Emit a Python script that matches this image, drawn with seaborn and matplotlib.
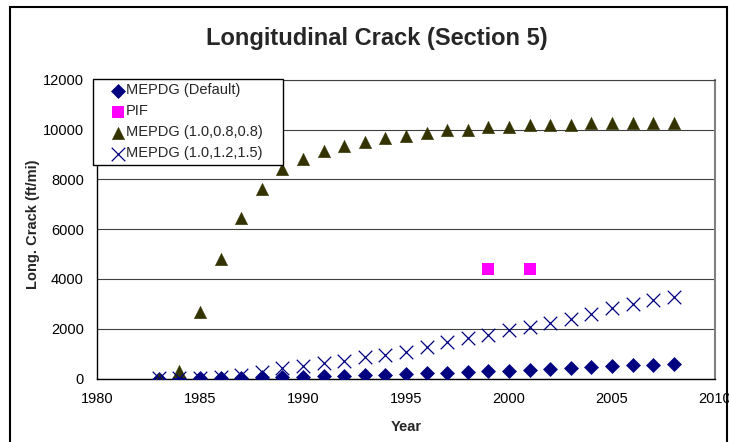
import numpy as np
import pandas as pd
import matplotlib
matplotlib.use('Agg')
import matplotlib.pyplot as plt
import seaborn as sns
from matplotlib.patches import Rectangle

# values
years = [1983, 1984, 1985, 1986, 1987, 1988, 1989, 1990, 1991, 1992, 1993, 1994, 1995,
         1996, 1997, 1998, 1999, 2000, 2001, 2002, 2003, 2004, 2005, 2006, 2007, 2008]
mepdg_default = [0, 5, 10, 20, 30, 50, 60, 80, 100, 120, 140, 160, 200,
                 210, 240, 260, 290, 320, 340, 390, 420, 460, 500, 550, 560, 590]
mepdg_08 = [0, 310, 2670, 4820, 6440, 7600, 8410, 8830, 9150, 9330, 9520, 9670, 9730,
            9870, 9970, 10000, 10110, 10100, 10190, 10190, 10190, 10270, 10270, 10270, 10270, 10270]
mepdg_12 = [30, 30, 30, 60, 140, 270, 410, 500, 610, 710, 850, 940, 1080,
            1280, 1480, 1610, 1750, 1950, 2060, 2220, 2390, 2580, 2820, 2990, 3150, 3290]
pif_years = [1999, 2001]
pif_vals = [4390, 4390]

labels = ['MEPDG (Default)', 'PIF', 'MEPDG (1.0,0.8,0.8)', 'MEPDG (1.0,1.2,1.5)']

sns.set_style('white')
plt.rcParams['font.family'] = ['Liberation Sans', 'DejaVu Sans']

W, H = 729, 442
fig = plt.figure(figsize=(W / 100, H / 100), dpi=100)
ax = fig.add_axes([97 / W, 1 - 378.5 / H, 618 / W, 298.5 / H])

navy = '#000080'
sns.scatterplot(x=years, y=mepdg_default, marker='D', s=58, color=navy,
                edgecolor=navy, linewidth=0, label=labels[0], ax=ax, zorder=3)
sns.scatterplot(x=pif_years, y=pif_vals, marker='s', s=64, color='#FF00FF',
                edgecolor='#FF00FF', linewidth=0, label=labels[1], ax=ax, zorder=3)
sns.scatterplot(x=years, y=mepdg_08, marker='^', s=80, color='#333300',
                edgecolor='#333300', linewidth=0.3, label=labels[2], ax=ax, zorder=3)
sns.scatterplot(x=years, y=mepdg_12, marker='x', s=95, color=navy,
                linewidth=0.9, label=labels[3], ax=ax, zorder=4)

ax.set_xlim(1980, 2010)
ax.set_ylim(0, 12000)
ax.set_xticks([1980, 1985, 1990, 1995, 2000, 2005, 2010])
ax.set_yticks([0, 2000, 4000, 6000, 8000, 10000, 12000])
ax.yaxis.grid(True, color='#404040', lw=0.8)
ax.set_axisbelow(True)
ax.set_xlabel('')
ax.set_ylabel('')

for side in ['left', 'bottom']:
    ax.spines[side].set_color('black')
    ax.spines[side].set_linewidth(1)
ax.spines['top'].set_color('#404040')
ax.spines['top'].set_linewidth(0.8)
ax.spines['right'].set_color('#808080')
ax.spines['right'].set_linewidth(1.5)

ax.tick_params(axis='both', direction='inout', length=7, width=0.8, color='black',
               labelsize=10.5, labelcolor='black')
ax.tick_params(axis='y', pad=6)
ax.tick_params(axis='x', pad=6)

handles, labs = ax.get_legend_handles_labels()
leg = ax.legend(handles, labs, loc='upper left',
                bbox_to_anchor=(93 / W, 1 - 165 / H, 190 / W, 86 / H),
                bbox_transform=fig.transFigure, mode='expand', borderaxespad=0,
                fontsize=10.5, frameon=True, fancybox=False, shadow=False,
                borderpad=0.3, labelspacing=0.48, handlelength=2.8, handletextpad=-0.86)
leg.get_frame().set_edgecolor('black')
leg.get_frame().set_linewidth(1)
leg.get_frame().set_alpha(1)
leg.set_zorder(10)

fig.text(377 / W, 1 - 45 / H, 'Longitudinal Crack (Section 5)', fontsize=17,
         fontweight='bold', ha='center', va='baseline')
fig.text(33 / W, 1 - 224 / H, 'Long. Crack (ft/mi)', fontsize=10.5, fontweight='bold',
         rotation=90, ha='center', va='center')
fig.text(406 / W, 1 - 427 / H, 'Year', fontsize=10.5, fontweight='bold',
         ha='center', va='center')

fig.patches.append(Rectangle((10 / W, -0.05), 717 / W, 1.05 - 7 / H,
                             transform=fig.transFigure, fill=False,
                             edgecolor='black', lw=1.5))

fig.savefig('out.png', dpi=100)
